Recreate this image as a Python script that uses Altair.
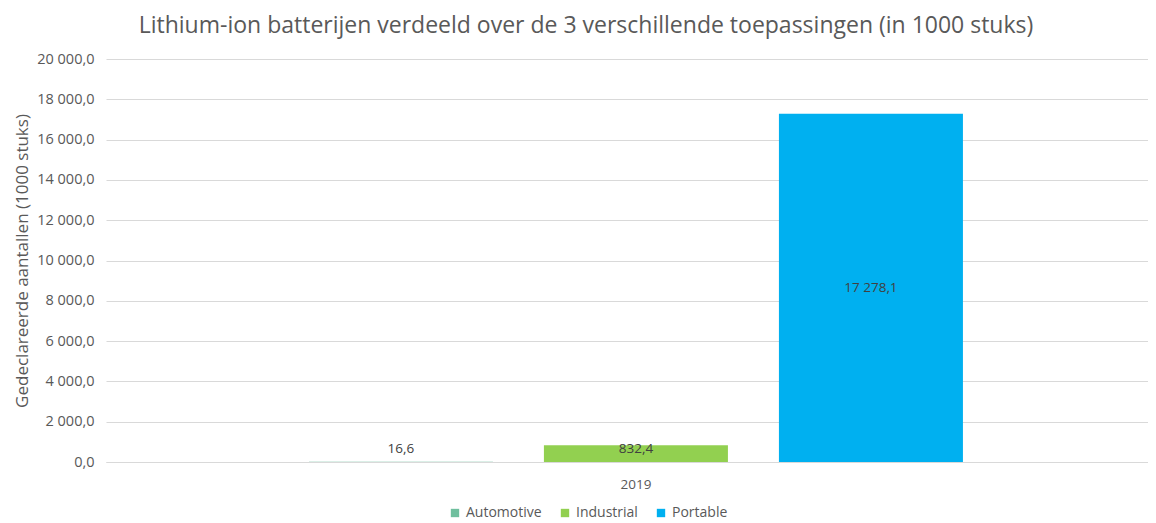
import altair as alt
import pandas as pd

years = ["2019", "2019", "2019"]
categories = ["Automotive", "Industrial", "Portable"]
values = [16.6, 832.4, 17278.1]
labels = ["16,6", "832,4", "17 278,1"]
colors = ["#6FBF9E", "#92D050", "#00B0F0"]

df = pd.DataFrame({"year": years, "type": categories, "value": values, "label": labels})

FONT = "Open Sans"
GREY = "#595959"

x = alt.X("year:N", title=None,
          scale=alt.Scale(paddingInner=0, paddingOuter=0.2966, align=0.523),
          axis=alt.Axis(labelAngle=0, ticks=False, domainColor="#D9D9D9",
                        labelColor=GREY, labelFontSize=13.5, labelFont=FONT, labelPadding=15))
xoff = alt.XOffset("type:N", sort=categories,
                   scale=alt.Scale(paddingInner=0.217, paddingOuter=0))

bars = alt.Chart(df).mark_bar().encode(
    x=x, xOffset=xoff,
    y=alt.Y("value:Q", title="Gedeclareerde aantallen (1000 stuks)",
            scale=alt.Scale(domain=[0, 20000], nice=False),
            axis=alt.Axis(values=list(range(0, 20001, 2000)), labelOverlap=False,
                          labelExpr="replace(replace(format(datum.value, ',.1f'), ',', ' '), '.', ',')",
                          domain=False, ticks=False, gridColor="#D9D9D9",
                          labelColor=GREY, labelFontSize=14.5, labelFont=FONT, labelPadding=12,
                          titleColor=GREY, titleFontSize=17, titleFont=FONT,
                          titleFontWeight="normal", titlePadding=5)),
    color=alt.Color("type:N", sort=categories, title=None,
                    scale=alt.Scale(domain=categories, range=colors),
                    legend=alt.Legend(orient="none", legendX=342, legendY=447,
                                      direction="horizontal",
                                      symbolType="square", symbolSize=70,
                                      labelColor=GREY, labelFontSize=14, labelFont=FONT,
                                      columnPadding=16)),
)

text = alt.Chart(df).transform_calculate(
    ly="max(datum.value / 2, 650)"
).mark_text(font=FONT, fontSize=13.5, color="#404040", baseline="middle").encode(
    x=x, xOffset=xoff,
    y=alt.Y("ly:Q"),
    text="label:N",
)

chart = alt.layer(bars, text).properties(
    width=1042, height=403,
    padding={"left": 98, "top": 51, "right": 0, "bottom": 60},
    autosize=alt.AutoSizeParams(type="none"),
    title=alt.TitleParams("Lithium-ion batterijen verdeeld over de 3 verschillende toepassingen  (in 1000 stuks)",
                          font=FONT, fontSize=23, fontWeight="normal", color=GREY,
                          anchor="middle", offset=13, dx=-41),
).configure_view(stroke=None)

chart.save("out.html", embed_options={"renderer": "svg", "actions": False})
